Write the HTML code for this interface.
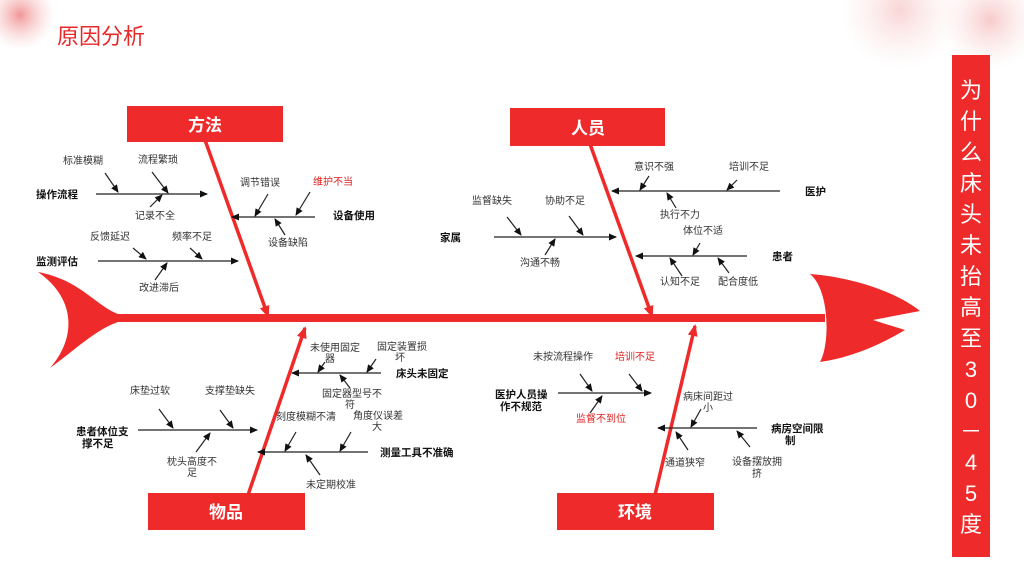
<!DOCTYPE html>
<html><head><meta charset="utf-8"><style>
html,body{margin:0;padding:0;background:#fff}
svg{display:block}
text{font-family:"Liberation Sans","Noto Sans CJK SC",sans-serif;font-size:10px;fill:#333}
.b{font-weight:bold;fill:#111;font-size:10.5px}
.r{fill:#e02020}
.v{fill:#fff;font-size:22px}
.l{stroke:#222;stroke-width:1.2;marker-end:url(#a)}
.m{stroke:#ee2a2a;stroke-width:3.5;marker-end:url(#ra)}
</style></head><body>
<svg width="1024" height="576" viewBox="0 0 1024 576" xmlns="http://www.w3.org/2000/svg">
<defs>
<marker id="a" markerWidth="8" markerHeight="8" refX="7" refY="4" orient="auto" markerUnits="userSpaceOnUse"><path d="M0,0.5 L8,4 L0,7.5z" fill="#111"/></marker>
<marker id="ra" markerWidth="12" markerHeight="12" refX="10" refY="6" orient="auto" markerUnits="userSpaceOnUse"><path d="M0,1 L12,6 L0,11z" fill="#ee2a2a"/></marker>
<radialGradient id="fl"><stop offset="0" stop-color="#e85050" stop-opacity=".6"/><stop offset="1" stop-color="#f4b0b0" stop-opacity="0"/></radialGradient>
</defs>
<!-- decorations -->
<circle cx="20" cy="15" r="35" fill="url(#fl)"/>
<circle cx="900" cy="10" r="60" fill="url(#fl)" opacity=".4"/>
<circle cx="990" cy="20" r="50" fill="url(#fl)" opacity=".5"/>
<text x="57" y="44" style="font-size:22px;fill:#e82828">原因分析</text>
<!-- spine -->
<rect x="105" y="314" width="720" height="8" fill="#ee2a2a"/>
<path d="M38,272 C80,280 95,305 118,314 L118,322 C95,330 75,350 50,368 C75,340 78,300 38,272z" fill="#ee2a2a"/>
<path d="M810,274 C860,278 900,295 920,311 L873,320 L905,330 C880,345 850,358 820,362 C830,345 830,290 810,274z" fill="#ee2a2a"/>
<!-- right panel -->
<rect x="952" y="55" width="38" height="502" fill="#ee2a2a"/>
<g text-anchor="middle">
<text class="v" x="971" y="98">为</text>
<text class="v" x="971" y="129">什</text>
<text class="v" x="971" y="160">么</text>
<text class="v" x="971" y="191">床</text>
<text class="v" x="971" y="222">头</text>
<text class="v" x="971" y="253">未</text>
<text class="v" x="971" y="284">抬</text>
<text class="v" x="971" y="315">高</text>
<text class="v" x="971" y="346">至</text>
<text class="v" x="971" y="377">3</text>
<text class="v" x="971" y="408">0</text>
<text class="v" x="971" y="439">－</text>
<text class="v" x="971" y="470">4</text>
<text class="v" x="971" y="501">5</text>
<text class="v" x="971" y="532">度</text>
</g>
<!-- main bones -->
<line class="m" x1="205" y1="140" x2="268" y2="316"/>
<line class="m" x1="590" y1="144" x2="652" y2="316"/>
<line class="m" x1="248" y1="495" x2="305" y2="328"/>
<line class="m" x1="655" y1="495" x2="695" y2="326"/>
<!-- category boxes -->
<rect x="127" y="106" width="156" height="36" fill="#ee2a2a"/>
<text x="205" y="131" text-anchor="middle" style="fill:#fff;font-size:17px;font-weight:bold">方法</text>
<rect x="510" y="108" width="155" height="38" fill="#ee2a2a"/>
<text x="588" y="134" text-anchor="middle" style="fill:#fff;font-size:17px;font-weight:bold">人员</text>
<rect x="148" y="493" width="157" height="37" fill="#ee2a2a"/>
<text x="226" y="518" text-anchor="middle" style="fill:#fff;font-size:17px;font-weight:bold">物品</text>
<rect x="557" y="493" width="157" height="37" fill="#ee2a2a"/>
<text x="635" y="518" text-anchor="middle" style="fill:#fff;font-size:17px;font-weight:bold">环境</text>

<!-- 方法 -->
<text class="b" x="36" y="198">操作流程</text>
<line class="l" x1="96" y1="194" x2="207" y2="194"/>
<line class="l" x1="105" y1="173" x2="118" y2="192"/><text x="63" y="164">标准模糊</text>
<line class="l" x1="152" y1="172" x2="168" y2="193"/><text x="138" y="163">流程繁琐</text>
<line class="l" x1="150" y1="207" x2="162" y2="195"/><text x="135" y="219">记录不全</text>
<text class="b" x="333" y="219">设备使用</text>
<line class="l" x1="315" y1="217" x2="232" y2="217"/>
<line class="l" x1="268" y1="194" x2="255" y2="216"/><text x="240" y="186">调节错误</text>
<line class="l" x1="310" y1="192" x2="296" y2="215"/><text class="r" x="313" y="185">维护不当</text>
<line class="l" x1="285" y1="235" x2="275" y2="219"/><text x="268" y="246">设备缺陷</text>
<text class="b" x="36" y="265">监测评估</text>
<line class="l" x1="98" y1="261" x2="238" y2="261"/>
<line class="l" x1="133" y1="248" x2="146" y2="259"/><text x="90" y="240">反馈延迟</text>
<line class="l" x1="190" y1="248" x2="202" y2="259"/><text x="172" y="240">频率不足</text>
<line class="l" x1="155" y1="280" x2="167" y2="263"/><text x="139" y="291">改进滞后</text>

<!-- 人员 -->
<text class="b" x="440" y="241">家属</text>
<line class="l" x1="494" y1="237" x2="616" y2="237"/>
<line class="l" x1="507" y1="217" x2="521" y2="235"/><text x="472" y="204">监督缺失</text>
<line class="l" x1="569" y1="216" x2="583" y2="235"/><text x="545" y="204">协助不足</text>
<line class="l" x1="545" y1="255" x2="555" y2="239"/><text x="520" y="266">沟通不畅</text>
<text class="b" x="805" y="195">医护</text>
<line class="l" x1="780" y1="191" x2="612" y2="191"/>
<line class="l" x1="649" y1="176" x2="640" y2="190"/><text x="634" y="170">意识不强</text>
<line class="l" x1="737" y1="180" x2="727" y2="190"/><text x="729" y="170">培训不足</text>
<line class="l" x1="676" y1="208" x2="667" y2="193"/><text x="660" y="218">执行不力</text>
<text class="b" x="772" y="260">患者</text>
<line class="l" x1="747" y1="256" x2="636" y2="256"/>
<line class="l" x1="700" y1="243" x2="693" y2="255"/><text x="683" y="234">体位不适</text>
<line class="l" x1="682" y1="276" x2="670" y2="258"/><text x="660" y="285">认知不足</text>
<line class="l" x1="729" y1="273" x2="718" y2="258"/><text x="718" y="285">配合度低</text>

<!-- 物品 -->
<text class="b" x="396" y="377">床头未固定</text>
<line class="l" x1="381" y1="373" x2="292" y2="373"/>
<line class="l" x1="325" y1="362" x2="318" y2="372"/><text x="310" y="351">未使用固定</text><text x="325" y="362">器</text>
<line class="l" x1="376" y1="359" x2="367" y2="372"/><text x="377" y="350">固定装置损</text><text x="395" y="361">坏</text>
<line class="l" x1="350" y1="388" x2="340" y2="375"/><text x="322" y="397">固定器型号不</text><text x="345" y="408">符</text>
<text class="b" x="76" y="435">患者体位支</text><text class="b" x="82" y="447">撑不足</text>
<line class="l" x1="138" y1="430" x2="257" y2="430"/>
<line class="l" x1="159" y1="409" x2="173" y2="428"/><text x="130" y="394">床垫过软</text>
<line class="l" x1="220" y1="410" x2="233" y2="428"/><text x="205" y="394">支撑垫缺失</text>
<line class="l" x1="196" y1="452" x2="210" y2="433"/><text x="167" y="465">枕头高度不</text><text x="187" y="476">足</text>
<text class="b" x="380" y="456">测量工具不准确</text>
<line class="l" x1="368" y1="452" x2="258" y2="452"/>
<line class="l" x1="296" y1="432" x2="285" y2="451"/><text x="276" y="420">刻度模糊不清</text>
<line class="l" x1="351" y1="432" x2="340" y2="451"/><text x="353" y="419">角度仪误差</text><text x="372" y="430">大</text>
<line class="l" x1="320" y1="475" x2="306" y2="455"/><text x="306" y="488">未定期校准</text>

<!-- 环境 -->
<text class="b" x="495" y="398">医护人员操</text><text class="b" x="500" y="410">作不规范</text>
<line class="l" x1="558" y1="393" x2="651" y2="393"/>
<line class="l" x1="580" y1="374" x2="592" y2="391"/><text x="533" y="360">未按流程操作</text>
<line class="l" x1="629" y1="374" x2="642" y2="391"/><text class="r" x="615" y="360">培训不足</text>
<line class="l" x1="590" y1="413" x2="602" y2="396"/><text class="r" x="576" y="422">监督不到位</text>
<text class="b" x="771" y="432">病房空间限</text><text class="b" x="785" y="444">制</text>
<line class="l" x1="757" y1="428" x2="658" y2="428"/>
<line class="l" x1="701" y1="409" x2="691" y2="427"/><text x="683" y="400">病床间距过</text><text x="703" y="411">小</text>
<line class="l" x1="688" y1="450" x2="676" y2="432"/><text x="665" y="466">通道狭窄</text>
<line class="l" x1="750" y1="447" x2="737" y2="431"/><text x="732" y="465">设备摆放拥</text><text x="752" y="477">挤</text>
</svg>
</body></html>
